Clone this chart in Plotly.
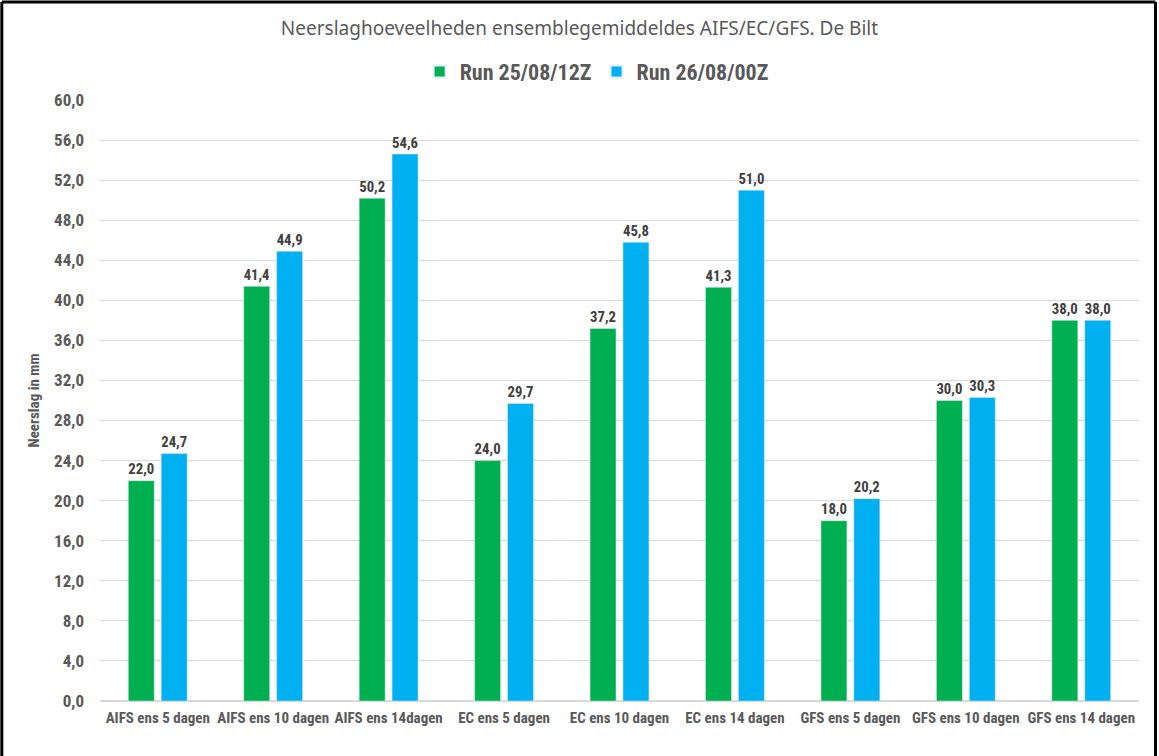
import plotly.graph_objects as go

# categories and values
categories = [
    "AIFS ens 5 dagen", "AIFS ens 10 dagen", "AIFS ens 14dagen",
    "EC ens 5 dagen", "EC ens 10 dagen", "EC ens 14 dagen",
    "GFS ens 5 dagen", "GFS ens 10 dagen", "GFS ens 14 dagen",
]
run_25_08_12z = [22.0, 41.4, 50.2, 24.0, 37.2, 41.3, 18.0, 30.0, 38.0]
run_26_08_00z = [24.7, 44.9, 54.6, 29.7, 45.8, 51.0, 20.2, 30.3, 38.0]
y_ticks = [0, 4, 8, 12, 16, 20, 24, 28, 32, 36, 40, 44, 48, 52, 56, 60]

narrow = "Liberation Sans Narrow, Roboto Condensed, Roboto, sans-serif"
grey = "#595959"

fig = go.Figure()
fig.add_trace(go.Bar(
    name="Run 25/08/12Z", x=categories, y=run_25_08_12z,
    marker_color="#00B050",
    texttemplate="%{y:.1f}", textposition="outside", cliponaxis=False,
    textfont=dict(family=narrow, size=17, color="#404040", weight="bold"),
))
fig.add_trace(go.Bar(
    name="Run 26/08/00Z", x=categories, y=run_26_08_00z,
    marker_color="#00B0F0",
    texttemplate="%{y:.1f}", textposition="outside", cliponaxis=False,
    textfont=dict(family=narrow, size=17, color="#404040", weight="bold"),
))

fig.update_layout(
    width=1159, height=756,
    margin=dict(l=100, r=20, t=100, b=55),
    paper_bgcolor="white", plot_bgcolor="white",
    separators=",.",
    bargap=0.43, bargroupgap=0.21,
    title=dict(
        text="Neerslaghoeveelheden ensemblegemiddeldes AIFS/EC/GFS. De Bilt",
        x=0.5, xanchor="center", y=0.962, yanchor="middle",
        font=dict(family="Noto Sans, Open Sans, sans-serif", size=19, color=grey),
    ),
    legend=dict(
        orientation="h", x=0.478, xanchor="center", y=1.047, yanchor="middle",
        font=dict(family=narrow, size=22, color=grey, weight="bold"),
        itemsizing="constant", itemwidth=30, traceorder="normal",
    ),
    showlegend=True,
)

fig.update_xaxes(
    showgrid=False, showline=False, ticks="", ticklabelstandoff=6,
    tickfont=dict(family=narrow, size=15, color=grey, weight="bold"),
)
fig.update_yaxes(
    range=[0, 60], tickvals=y_ticks, tickformat=".1f",
    showgrid=True, gridcolor="#D9D9D9", gridwidth=1,
    zeroline=True, zerolinecolor="#D9D9D9",
    showline=False, ticks="", ticklabelstandoff=15,
    tickfont=dict(family=narrow, size=17, color=grey, weight="bold"),
    title=dict(text="Neerslag in mm", standoff=10,
               font=dict(family=narrow, size=15, color=grey, weight="bold")),
)

# black frame around the chart (left, top, right)
fx0, fx1, fy = -0.0945, 1.0159, 1.163
for x0, y0, x1, y1 in [(fx0, -0.1, fx0, fy), (fx0, fy, fx1, fy), (fx1, -0.1, fx1, fy)]:
    fig.add_shape(type="line", xref="paper", yref="paper",
                  x0=x0, y0=y0, x1=x1, y1=y1,
                  line=dict(color="black", width=3))

# drop the page's default body margin so the chart sits at the window edge
fig.write_html("out.html", config={"displayModeBar": False},
               post_script="document.body.style.margin='0';document.body.style.overflow='hidden';")
